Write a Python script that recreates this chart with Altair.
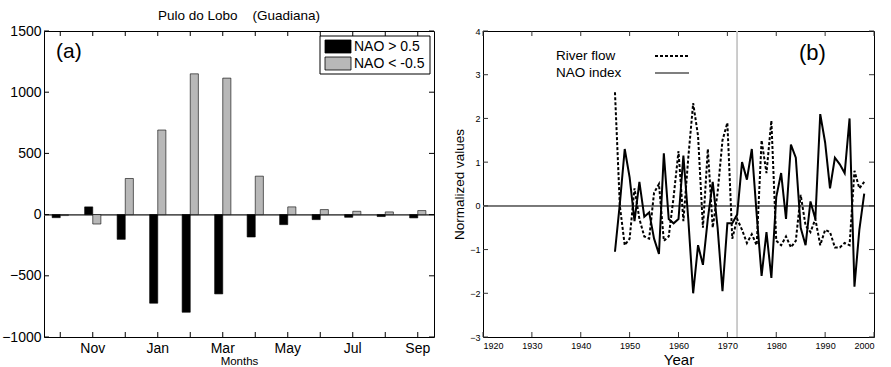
import altair as alt
import pandas as pd

# ---------------- data: panel (a) ----------------
months = ["Oct", "Nov", "Dec", "Jan", "Feb", "Mar", "Apr", "May", "Jun", "Jul", "Aug", "Sep"]
labelled_months = ["Nov", "Jan", "Mar", "May", "Jul", "Sep"]
nao_pos = [-25, 63, -202, -724, -798, -648, -183, -82, -41, -22, -16, -27]
nao_neg = [-8, -77, 295, 691, 1150, 1115, 314, 63, 41, 27, 22, 33]
series_a = ["NAO > 0.5", "NAO < -0.5"]
colors_a = ["#000000", "#b8b8b8"]
yticks_a = [-1000, -500, 0, 500, 1000, 1500]

# ---------------- data: panel (b) ----------------
years = list(range(1947, 1999))
river_flow = [2.6, 0.0, -0.9, -0.75, 0.4, -0.3, -0.7, -0.75, 0.3, 0.5,
              -0.8, -0.7, 0.2, 1.25, -0.35, 1.1, 2.35, 1.6, -0.5, 1.3,
              -0.5, 0.3, 1.5, 1.9, -0.75, -0.3, -0.55, -0.85, -0.65, -0.9,
              1.5, 0.75, 1.95, -0.8, -0.9, -0.7, -0.95, -0.8, 0.25, -0.45,
              -0.6, -0.3, -0.9, -0.55, -0.6, -0.95, -0.95, -0.85, -0.9, 0.8,
              0.4, 0.55]
nao_index = [-1.05, 0.05, 1.3, 0.65, -0.35, 0.55, -0.25, -0.15, -0.75, -1.1,
             1.2, -0.3, -0.4, -0.3, 1.15, -0.3, -2.0, -0.9, -1.35, -0.3,
             0.55, -0.5, -1.95, -0.4, -0.4, -0.2, 1.0, 0.6, 1.3, -0.2,
             -1.6, -0.6, -1.65, 0.2, 0.75, -0.3, 1.4, 1.1, -0.5, -0.9,
             0.1, -0.3, 2.1, 1.45, 0.4, 1.1, 0.95, 0.75, 2.0, -1.85,
             -0.55, 0.28]
xticks_b = [1920, 1930, 1940, 1950, 1960, 1970, 1980, 1990, 2000]
yticks_b = [-3, -2, -1, 0, 1, 2, 3, 4]
legend_b = ["River flow", "NAO index"]

FONT = "Liberation Sans"
W1, H1 = 390, 306
W2, H2 = 391, 306
TICK = 5

# ---------------- panel (a) ----------------
bars = pd.DataFrame({
    "month": months * 2,
    "series": [series_a[0]] * 12 + [series_a[1]] * 12,
    "value": nao_pos + nao_neg,
})
ytick_df = pd.DataFrame({"v": yticks_a})
xtick_df = pd.DataFrame({"month": months})

label_expr = "indexof(" + str(labelled_months) + ", datum.value) >= 0 ? datum.value : ''"
xscale_a = alt.Scale(domain=months, paddingInner=0.5, paddingOuter=0.25)
xaxis_a = alt.Axis(title="Months", labelExpr=label_expr, labelAngle=0, tickSize=0, domain=False,
                   grid=False, labelFontSize=14, labelPadding=4, titleFontSize=11.5,
                   titleFontWeight="normal", titlePadding=0, labelColor="black", titleColor="black")
yscale_a = alt.Scale(domain=[-1000, 1500], nice=False, zero=False)
yaxis_a = alt.Axis(title=None, values=yticks_a, format="d", tickSize=0, domain=False, grid=False,
                   labelFontSize=14, labelPadding=3, labelColor="black")
cscale_a = alt.Scale(domain=series_a, range=colors_a)

bar_layer = alt.Chart(bars).mark_bar(stroke="black", strokeWidth=0.6).encode(
    x=alt.X("month:N", sort=months, scale=xscale_a, axis=xaxis_a),
    xOffset=alt.XOffset("series:N", sort=series_a, scale=alt.Scale(domain=series_a)),
    y=alt.Y("value:Q", scale=yscale_a, axis=yaxis_a),
    color=alt.Color("series:N", scale=cscale_a, legend=None),
)
zero_a = alt.Chart(xtick_df).mark_rule(color="#555555", strokeWidth=1).encode(y=alt.datum(0, scale=yscale_a))
yt_left = alt.Chart(ytick_df).mark_rule(color="black").encode(
    y=alt.Y("v:Q", scale=yscale_a, axis=yaxis_a), x=alt.value(0), x2=alt.value(TICK))
yt_right = alt.Chart(ytick_df).mark_rule(color="black").encode(
    y=alt.Y("v:Q", scale=yscale_a, axis=yaxis_a), x=alt.value(W1 - TICK), x2=alt.value(W1))
xt_bot = alt.Chart(xtick_df).mark_rule(color="black").encode(
    x=alt.X("month:N", sort=months, scale=xscale_a, axis=xaxis_a), y=alt.value(H1), y2=alt.value(H1 - TICK))
xt_top = alt.Chart(xtick_df).mark_rule(color="black").encode(
    x=alt.X("month:N", sort=months, scale=xscale_a, axis=xaxis_a), y=alt.value(0), y2=alt.value(TICK))
tag_a = alt.Chart(pd.DataFrame({"t": ["(a)"]})).mark_text(
    align="left", baseline="middle", fontSize=21, color="black").encode(
    text="t:N", x=alt.value(12), y=alt.value(21))

# legend box of panel (a)
leg_box = alt.Chart(pd.DataFrame({"t": ["box"]})).mark_rect(
    fill="white", stroke="black", strokeWidth=1).encode(
    x=alt.value(276), x2=alt.value(386), y=alt.value(5), y2=alt.value(43))
leg_sym1 = alt.Chart(pd.DataFrame({"s": [series_a[0]]})).mark_rect(stroke="black", strokeWidth=0.8).encode(
    color=alt.Color("s:N", scale=cscale_a, legend=None),
    x=alt.value(281), x2=alt.value(307), y=alt.value(9), y2=alt.value(22))
leg_sym2 = alt.Chart(pd.DataFrame({"s": [series_a[1]]})).mark_rect(stroke="black", strokeWidth=0.8).encode(
    color=alt.Color("s:N", scale=cscale_a, legend=None),
    x=alt.value(281), x2=alt.value(307), y=alt.value(26), y2=alt.value(39))
leg_lab1 = alt.Chart(pd.DataFrame({"s": [series_a[0]]})).mark_text(
    align="left", baseline="middle", fontSize=14, color="black").encode(
    text="s:N", x=alt.value(310), y=alt.value(15.5))
leg_lab2 = alt.Chart(pd.DataFrame({"s": [series_a[1]]})).mark_text(
    align="left", baseline="middle", fontSize=14, color="black").encode(
    text="s:N", x=alt.value(310), y=alt.value(32.5))

left = alt.layer(zero_a, bar_layer, yt_left, yt_right, xt_bot, xt_top, tag_a,
                 leg_box, leg_sym1, leg_sym2, leg_lab1, leg_lab2).properties(
    width=W1, height=H1,
    title=alt.TitleParams("Pulo do Lobo\u00a0\u00a0\u00a0\u00a0(Guadiana)", fontSize=13.5,
                          fontWeight="normal", offset=2, color="black"),
)

# ---------------- panel (b) ----------------
flow_df = pd.DataFrame({"year": years, "value": river_flow})
nao_df = pd.DataFrame({"year": years, "value": nao_index})
xscale_b = alt.Scale(domain=[1920, 2000], nice=False, zero=False)
yscale_b = alt.Scale(domain=[-3, 4], nice=False, zero=False)
xaxis_b = alt.Axis(title="Year", values=xticks_b, format="d", tickSize=0, domain=False, grid=False,
                   labelFontSize=9, labelPadding=4, titleFontSize=15, titleFontWeight="normal",
                   titlePadding=2, labelColor="black", titleColor="black")
yaxis_b = alt.Axis(title="Normalized values", values=yticks_b, tickSize=0, domain=False, grid=False,
                   labelFontSize=9, labelPadding=3, titleFontSize=13.5, titleFontWeight="normal",
                   titlePadding=3, labelColor="black", titleColor="black")
xtb = pd.DataFrame({"v": xticks_b})
ytb = pd.DataFrame({"v": yticks_b})

zero_b = alt.Chart(ytb).mark_rule(color="#777777", strokeWidth=1).encode(y=alt.datum(0, scale=yscale_b))
vline_b = alt.Chart(ytb).mark_rule(color="#c8c8c8", strokeWidth=0.7).encode(x=alt.datum(1972, scale=xscale_b))
flow_line = alt.Chart(flow_df).mark_line(color="black", strokeWidth=2, strokeDash=[3, 2]).encode(
    x=alt.X("year:Q", scale=xscale_b, axis=xaxis_b), y=alt.Y("value:Q", scale=yscale_b, axis=yaxis_b))
nao_line = alt.Chart(nao_df).mark_line(color="black", strokeWidth=2).encode(
    x=alt.X("year:Q", scale=xscale_b, axis=xaxis_b), y=alt.Y("value:Q", scale=yscale_b, axis=yaxis_b))
xb_bot = alt.Chart(xtb).mark_rule(color="#333333").encode(
    x=alt.X("v:Q", scale=xscale_b, axis=xaxis_b), y=alt.value(H2), y2=alt.value(H2 - TICK))
xb_top = alt.Chart(xtb).mark_rule(color="#333333").encode(
    x=alt.X("v:Q", scale=xscale_b, axis=xaxis_b), y=alt.value(0), y2=alt.value(TICK))
yb_left = alt.Chart(ytb).mark_rule(color="#333333").encode(
    y=alt.Y("v:Q", scale=yscale_b, axis=yaxis_b), x=alt.value(0), x2=alt.value(TICK))
yb_right = alt.Chart(ytb).mark_rule(color="#333333").encode(
    y=alt.Y("v:Q", scale=yscale_b, axis=yaxis_b), x=alt.value(W2 - TICK), x2=alt.value(W2))
leg_txt1 = alt.Chart(pd.DataFrame({"t": [legend_b[0]]})).mark_text(
    align="left", baseline="middle", fontSize=13.5, color="black").encode(
    text="t:N", x=alt.value(73), y=alt.value(25))
leg_txt2 = alt.Chart(pd.DataFrame({"t": [legend_b[1]]})).mark_text(
    align="left", baseline="middle", fontSize=13.5, color="black").encode(
    text="t:N", x=alt.value(73), y=alt.value(42))
leg_line1 = alt.Chart(pd.DataFrame({"t": [legend_b[0]]})).mark_rule(
    color="black", strokeWidth=2, strokeDash=[3, 2]).encode(
    x=alt.value(172), x2=alt.value(206), y=alt.value(25))
leg_line2 = alt.Chart(pd.DataFrame({"t": [legend_b[1]]})).mark_rule(
    color="black", strokeWidth=1.2).encode(
    x=alt.value(172), x2=alt.value(206), y=alt.value(42))
tag_b = alt.Chart(pd.DataFrame({"t": ["(b)"]})).mark_text(
    align="left", baseline="middle", fontSize=22, color="black").encode(
    text="t:N", x=alt.value(316), y=alt.value(22))

right = alt.layer(zero_b, vline_b, flow_line, nao_line, xb_bot, xb_top, yb_left, yb_right,
                  leg_txt1, leg_txt2, leg_line1, leg_line2, tag_b).properties(width=W2, height=H2)

chart = alt.hconcat(left, right, spacing=17).properties(
    padding={"left": 1, "top": 8, "right": 0, "bottom": 0}
).configure(font=FONT).configure_view(stroke="black", strokeWidth=1)

chart.save("out.html", embed_options={"renderer": "svg", "actions": False})
